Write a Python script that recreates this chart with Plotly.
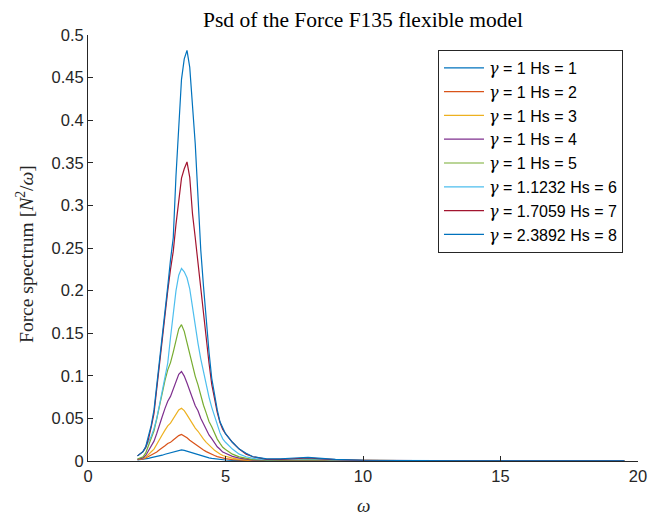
import plotly.graph_objects as go

# Frequency axis (rad/s)
omega = [1.8, 1.9, 2.0, 2.1, 2.2, 2.3, 2.4, 2.5, 2.6, 2.7, 2.8, 2.9, 3.0, 3.1, 3.2, 3.3,
         3.4, 3.5, 3.6, 3.7, 3.8, 3.9, 4.0, 4.1, 4.2, 4.3, 4.4, 4.5, 4.6, 4.7, 4.8, 4.9,
         5.0, 5.25, 5.5, 5.75, 6.0, 6.5, 7.0, 7.5, 8.0, 8.5, 9.0, 10, 11, 12.5, 14, 16, 18, 19.5]

# Force PSD per sea state
psd_hs1 = [0.0012, 0.0015, 0.0018, 0.0024, 0.0031, 0.0040, 0.0046, 0.0052, 0.0060, 0.0068, 0.0079, 0.0088,
           0.0093, 0.0104, 0.0116, 0.0126, 0.0130, 0.0124, 0.0114, 0.0100, 0.0088, 0.0078, 0.0070, 0.0060,
           0.0052, 0.0044, 0.0037, 0.0031, 0.0026, 0.0021, 0.0017, 0.0014, 0.0012, 0.0008, 0.0005, 0.0003,
           0.0002, 0.0001, 0.0002, 0.0003, 0.0004, 0.0003, 0.0002, 0.0001, 0.0001, 0.0001, 0.0001, 0.0001,
           0.0001, 0.0001]
psd_hs2 = [0.0015, 0.0019, 0.0025, 0.0036, 0.0052, 0.0068, 0.0084, 0.0105, 0.0131, 0.0152, 0.0178, 0.0205,
           0.0219, 0.0246, 0.0272, 0.0298, 0.0312, 0.0296, 0.0273, 0.0244, 0.0219, 0.0195, 0.0176, 0.0151,
           0.0129, 0.0110, 0.0092, 0.0079, 0.0064, 0.0052, 0.0042, 0.0033, 0.0028, 0.0017, 0.0010, 0.0006,
           0.0004, 0.0003, 0.0004, 0.0006, 0.0008, 0.0006, 0.0004, 0.0002, 0.0002, 0.0001, 0.0001, 0.0001,
           0.0001, 0.0001]
psd_hs3 = [0.0018, 0.0022, 0.0030, 0.0045, 0.0072, 0.0108, 0.0139, 0.0190, 0.0252, 0.0308, 0.0362, 0.0412,
           0.0444, 0.0493, 0.0550, 0.0598, 0.0620, 0.0591, 0.0541, 0.0486, 0.0437, 0.0386, 0.0349, 0.0300,
           0.0256, 0.0219, 0.0182, 0.0157, 0.0126, 0.0101, 0.0083, 0.0064, 0.0055, 0.0033, 0.0020, 0.0012,
           0.0007, 0.0005, 0.0006, 0.0009, 0.0012, 0.0009, 0.0006, 0.0003, 0.0002, 0.0002, 0.0001, 0.0001,
           0.0001, 0.0001]
psd_hs4 = [0.0020, 0.0025, 0.0036, 0.0065, 0.0118, 0.0180, 0.0233, 0.0323, 0.0433, 0.0522, 0.0618, 0.0701,
           0.0758, 0.0838, 0.0932, 0.1017, 0.1050, 0.0996, 0.0916, 0.0817, 0.0737, 0.0649, 0.0590, 0.0502,
           0.0432, 0.0366, 0.0306, 0.0262, 0.0211, 0.0167, 0.0138, 0.0105, 0.0090, 0.0054, 0.0033, 0.0019,
           0.0011, 0.0007, 0.0008, 0.0012, 0.0016, 0.0012, 0.0008, 0.0004, 0.0003, 0.0002, 0.0002, 0.0001,
           0.0001, 0.0001]
psd_hs5 = [0.0024, 0.0032, 0.0049, 0.0095, 0.0178, 0.0270, 0.0355, 0.0494, 0.0658, 0.0798, 0.0946, 0.1070,
           0.1155, 0.1278, 0.1426, 0.1550, 0.1600, 0.1522, 0.1390, 0.1250, 0.1118, 0.0994, 0.0894, 0.0770,
           0.0654, 0.0562, 0.0463, 0.0401, 0.0319, 0.0257, 0.0207, 0.0161, 0.0135, 0.0080, 0.0048, 0.0029,
           0.0016, 0.0009, 0.0011, 0.0017, 0.0022, 0.0016, 0.0010, 0.0006, 0.0004, 0.0003, 0.0002, 0.0001,
           0.0001, 0.0001]
psd_hs6 = [0.006, 0.008, 0.011, 0.016, 0.022, 0.029, 0.038, 0.050, 0.066, 0.082, 0.099, 0.115,
           0.145, 0.175, 0.200, 0.218, 0.226, 0.222, 0.215, 0.202, 0.180, 0.157, 0.138, 0.120,
           0.104, 0.089, 0.075, 0.063, 0.052, 0.042, 0.033, 0.026, 0.022, 0.014, 0.008, 0.005,
           0.003, 0.0015, 0.0015, 0.0022, 0.0028, 0.0020, 0.0012, 0.0007, 0.0005, 0.0003, 0.0002, 0.0002,
           0.0001, 0.0001]
psd_hs7 = [0.006, 0.008, 0.011, 0.016, 0.026, 0.040, 0.056, 0.085, 0.115, 0.138, 0.168, 0.200,
           0.225, 0.246, 0.278, 0.308, 0.332, 0.343, 0.351, 0.333, 0.290, 0.262, 0.232, 0.200,
           0.170, 0.142, 0.115, 0.090, 0.071, 0.057, 0.045, 0.037, 0.032, 0.022, 0.014, 0.008,
           0.005, 0.002, 0.002, 0.0028, 0.0035, 0.0025, 0.0015, 0.0008, 0.0005, 0.0004, 0.0003, 0.0002,
           0.0001, 0.0001]
psd_hs8 = [0.006, 0.008, 0.011, 0.017, 0.028, 0.042, 0.060, 0.088, 0.118, 0.142, 0.172, 0.205,
           0.236, 0.262, 0.335, 0.400, 0.448, 0.472, 0.482, 0.462, 0.420, 0.372, 0.310, 0.248,
           0.205, 0.165, 0.128, 0.097, 0.077, 0.060, 0.046, 0.038, 0.032, 0.022, 0.014, 0.009,
           0.005, 0.0025, 0.0025, 0.0035, 0.0042, 0.0030, 0.0018, 0.0009, 0.0006, 0.0004, 0.0003, 0.0002,
           0.0002, 0.0001]

gammas = ["1", "1", "1", "1", "1", "1.1232", "1.7059", "2.3892"]
hs_values = ["1", "2", "3", "4", "5", "6", "7", "8"]
series = [psd_hs1, psd_hs2, psd_hs3, psd_hs4, psd_hs5, psd_hs6, psd_hs7, psd_hs8]
colors = ["#0072BD", "#D95319", "#EDB120", "#7E2F8E", "#77AC30", "#4DBEEE", "#A2142F", "#0072BD"]

SANS = "Liberation Sans, Arial, sans-serif"
SERIF = "Liberation Serif, Times New Roman, serif"
AXC = "#262626"

fig = go.Figure()
for g, hs, vals, c in zip(gammas, hs_values, series, colors):
    name = (f"<span style=\"font-family:'DejaVu Serif'\"><i>γ</i></span>"
            f" = {g} Hs = {hs}")
    fig.add_trace(go.Scatter(x=omega, y=vals, mode="lines", name=name,
                             line=dict(color=c, width=1.2)))

fig.update_layout(
    width=651, height=516,
    margin=dict(l=88, r=13, t=35, b=55, autoexpand=False),
    paper_bgcolor="white", plot_bgcolor="white",
    font=dict(family=SANS, size=15, color=AXC),
    title=dict(text="Psd of the Force F135 flexible model",
               font=dict(family=SERIF, size=21.5, color="black"),
               x=363 / 651, xanchor="center", y=1 - 19 / 516, yanchor="middle"),
    showlegend=True,
    legend=dict(x=0.9727, xanchor="right", y=0.965, yanchor="top",
                bgcolor="white", bordercolor=AXC, borderwidth=1,
                font=dict(family=SANS, size=16, color="black"),
                tracegroupgap=0, itemwidth=40),
    annotations=[
        dict(text="Force spectrum [<i>N</i><sup>2</sup>/<i>ω</i>]",
             xref="paper", yref="paper", x=-63 / 550, y=0.486,
             xanchor="center", yanchor="middle", textangle=-90, showarrow=False,
             font=dict(family=SERIF, size=19.5, color=AXC)),
        dict(text="<i>ω</i>", xref="paper", yref="paper", x=0.5, y=-44 / 426,
             xanchor="center", yanchor="middle", showarrow=False,
             font=dict(family=SERIF, size=19, color=AXC)),
    ],
)
fig.update_xaxes(range=[0, 20], tickvals=[0, 5, 10, 15, 20],
                 ticks="inside", ticklen=5, tickcolor=AXC,
                 showline=True, linecolor=AXC, linewidth=1,
                 showgrid=False, zeroline=False, automargin=False,
                 tickfont=dict(family=SANS, size=16.5, color=AXC))
fig.update_yaxes(range=[0, 0.5], tickvals=[i * 0.05 for i in range(11)],
                 ticktext=["0", "0.05", "0.1", "0.15", "0.2", "0.25", "0.3", "0.35",
                           "0.4", "0.45", "0.5"],
                 ticks="inside", ticklen=5, tickcolor=AXC,
                 showline=True, linecolor=AXC, linewidth=1,
                 showgrid=False, zeroline=False, automargin=False,
                 tickfont=dict(family=SANS, size=16.5, color=AXC))

fig.write_html("out.html")
